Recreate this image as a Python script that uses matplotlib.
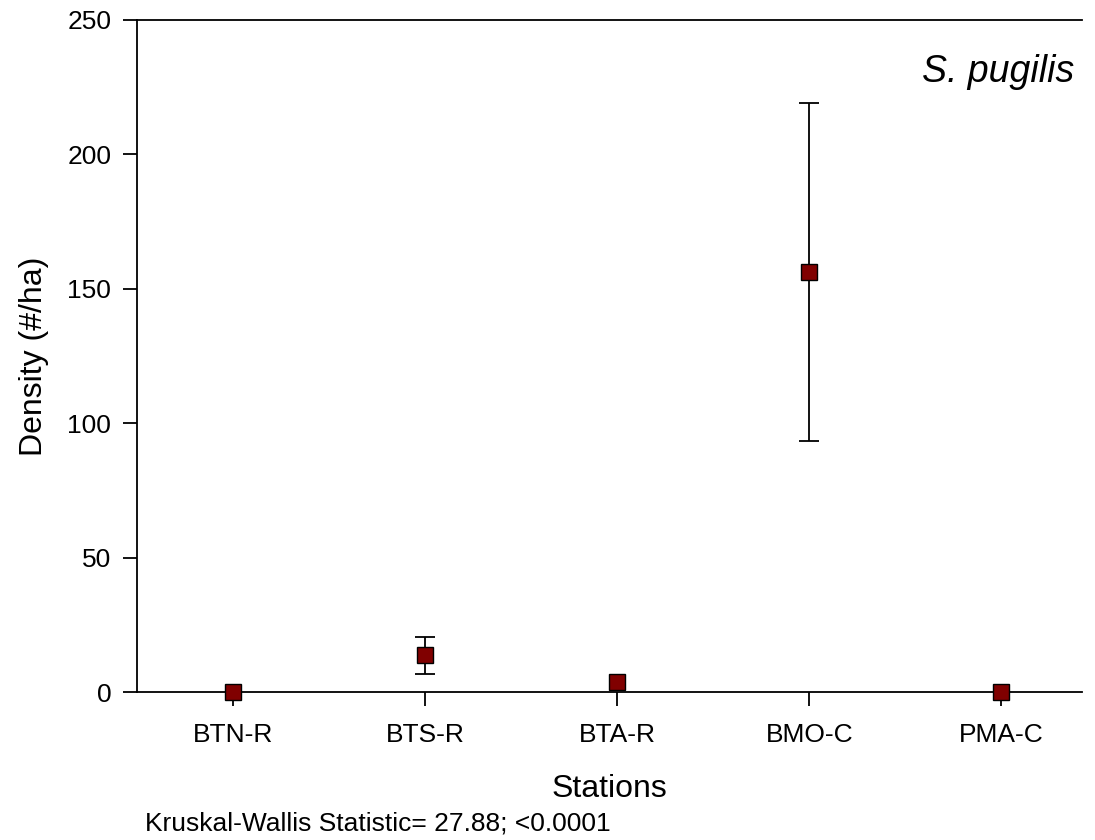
import numpy as np
import matplotlib.pyplot as plt

plt.rcParams['font.family'] = ['Liberation Sans', 'DejaVu Sans']

# Densité moyenne par station avec barres d'erreur
stations = ['BTN-R', 'BTS-R', 'BTA-R', 'BMO-C', 'PMA-C']
densite = [0.0, 13.6, 3.8, 156.1, 0.0]
err_haut = [0.0, 7.0, 0.0, 62.9, 0.0]
err_bas = [0.0, 7.0, 0.0, 62.7, 0.0]

fig = plt.figure(figsize=(10.95, 8.4), dpi=100)
ax = fig.add_axes([137 / 1095, 1 - 692 / 840, (1082 - 137) / 1095, (692 - 20) / 840])

x = np.arange(len(stations))
d = np.array(densite)
eh = np.array(err_haut)
eb = np.array(err_bas)
m = (eh > 0) | (eb > 0)  # pas de barre quand l'erreur est nulle

ax.errorbar(x[m], d[m], yerr=[eb[m], eh[m]], fmt='none',
            ecolor='black', elinewidth=1.3, capsize=7.5, capthick=1.3, zorder=2)
ax.plot(x, d, 's', markersize=11, markerfacecolor='#800000',
        markeredgecolor='black', markeredgewidth=1.0, clip_on=False, zorder=3)

ax.set_xlim(-0.5, 4.42)
ax.set_ylim(0, 250)
ax.set_xticks(x)
ax.set_xticklabels(stations)
ax.set_yticks([0, 50, 100, 150, 200, 250])

ax.spines['right'].set_visible(False)
for s in ['left', 'bottom', 'top']:
    ax.spines[s].set_linewidth(1.3)
ax.tick_params(direction='out', length=10, width=1.3, labelsize=19, pad=8.5)
ax.tick_params(axis='x', pad=12)

ax.set_xlabel('Stations', fontsize=23, labelpad=20)
ax.set_ylabel('Density (#/ha)', fontsize=23, labelpad=13)

ax.text(0.992, 0.95, 'S. pugilis', transform=ax.transAxes, ha='right', va='top',
        fontsize=27, style='italic')

fig.text(145 / 1095, 1 - 831 / 840, 'Kruskal-Wallis Statistic= 27.88; <0.0001',
         fontsize=19, ha='left', va='baseline')

plt.savefig('out.png', dpi=100)
